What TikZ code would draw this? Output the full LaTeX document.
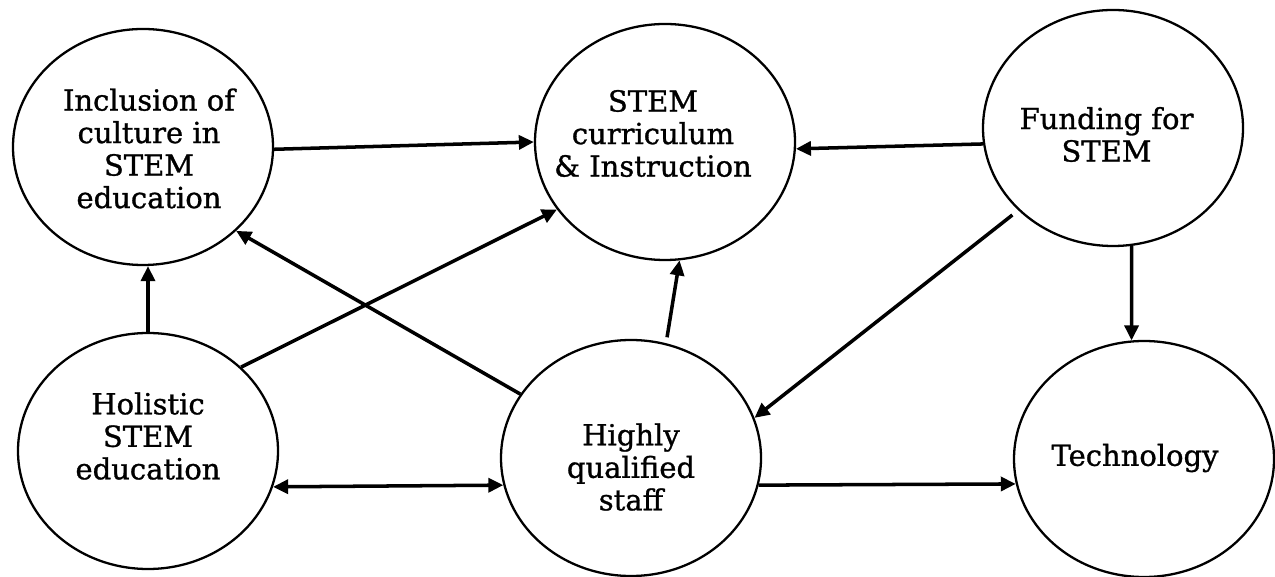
\documentclass[tikz,border=0pt]{standalone}
\usepackage{fontspec}
\setmainfont[FakeBold=1]{DejaVu Serif}
\usetikzlibrary{shapes.geometric,arrows.meta}

\begin{document}
\begin{tikzpicture}[>={Triangle[length=0.3cm,width=0.28cm]},line width=2pt,
    main node/.style={ellipse,draw,line width=1.3pt,minimum width=5.2cm,minimum height=4.72cm,inner sep=0pt},
    text node/.style={align=center,font=\fontsize{16.5}{18.5}\selectfont}]
    \useasboundingbox (0,0) rectangle (25.5,11.52);

    \node[main node] (inc) at (2.86,8.58) {};
    \node[main node] (cur) at (13.30,8.68) {};
    \node[main node] (fund) at (22.26,8.96) {};
    \node[main node] (hol) at (2.96,2.50) {};
    \node[main node] (hqs) at (12.62,2.36) {};
    \node[main node] (tech) at (22.88,2.34) {};

    \node[text node] (inc text) at ([shift={(0.12,-0.03)}]inc.center) {Inclusion of\\culture in\\STEM\\education};
    \node[text node] (cur text) at ([shift={(-0.24,0.17)}]cur.center) {STEM\\curriculum\\\& Instruction};
    \node[text node] (fund text) at ([shift={(-0.13,-0.13)}]fund.center) {Funding for\\STEM};
    \node[text node] (hol text) at ([shift={(0,0.3)}]hol.center) {Holistic\\STEM\\education};
    \node[text node] (hqs text) at ([shift={(0,-0.18)}]hqs.center) {Highly\\qualified\\staff};
    \node[text node] (tech text) at ([shift={(-0.18,0.02)}]tech.center) {Technology};

    \path[->]
        (inc.-1) edge (cur.180)
        (fund.187) edge (cur.357)
        (fund.-81) edge (tech.96)
        (fund.221) edge[shorten <=0.15cm] (hqs.18)
        (hol.north) edge (hol.north |- inc.south)
        (hol.42) edge (cur.212)
        (hqs.150.6) edge (inc.-42.4)
        (hqs.73) edge[shorten <=0.12cm] (cur.-83.4)
        (hol.-16) edge[<->] (hqs.192.5)
        (hqs.-12.3) edge (tech.191.7)
        ;
\end{tikzpicture}
\end{document}
